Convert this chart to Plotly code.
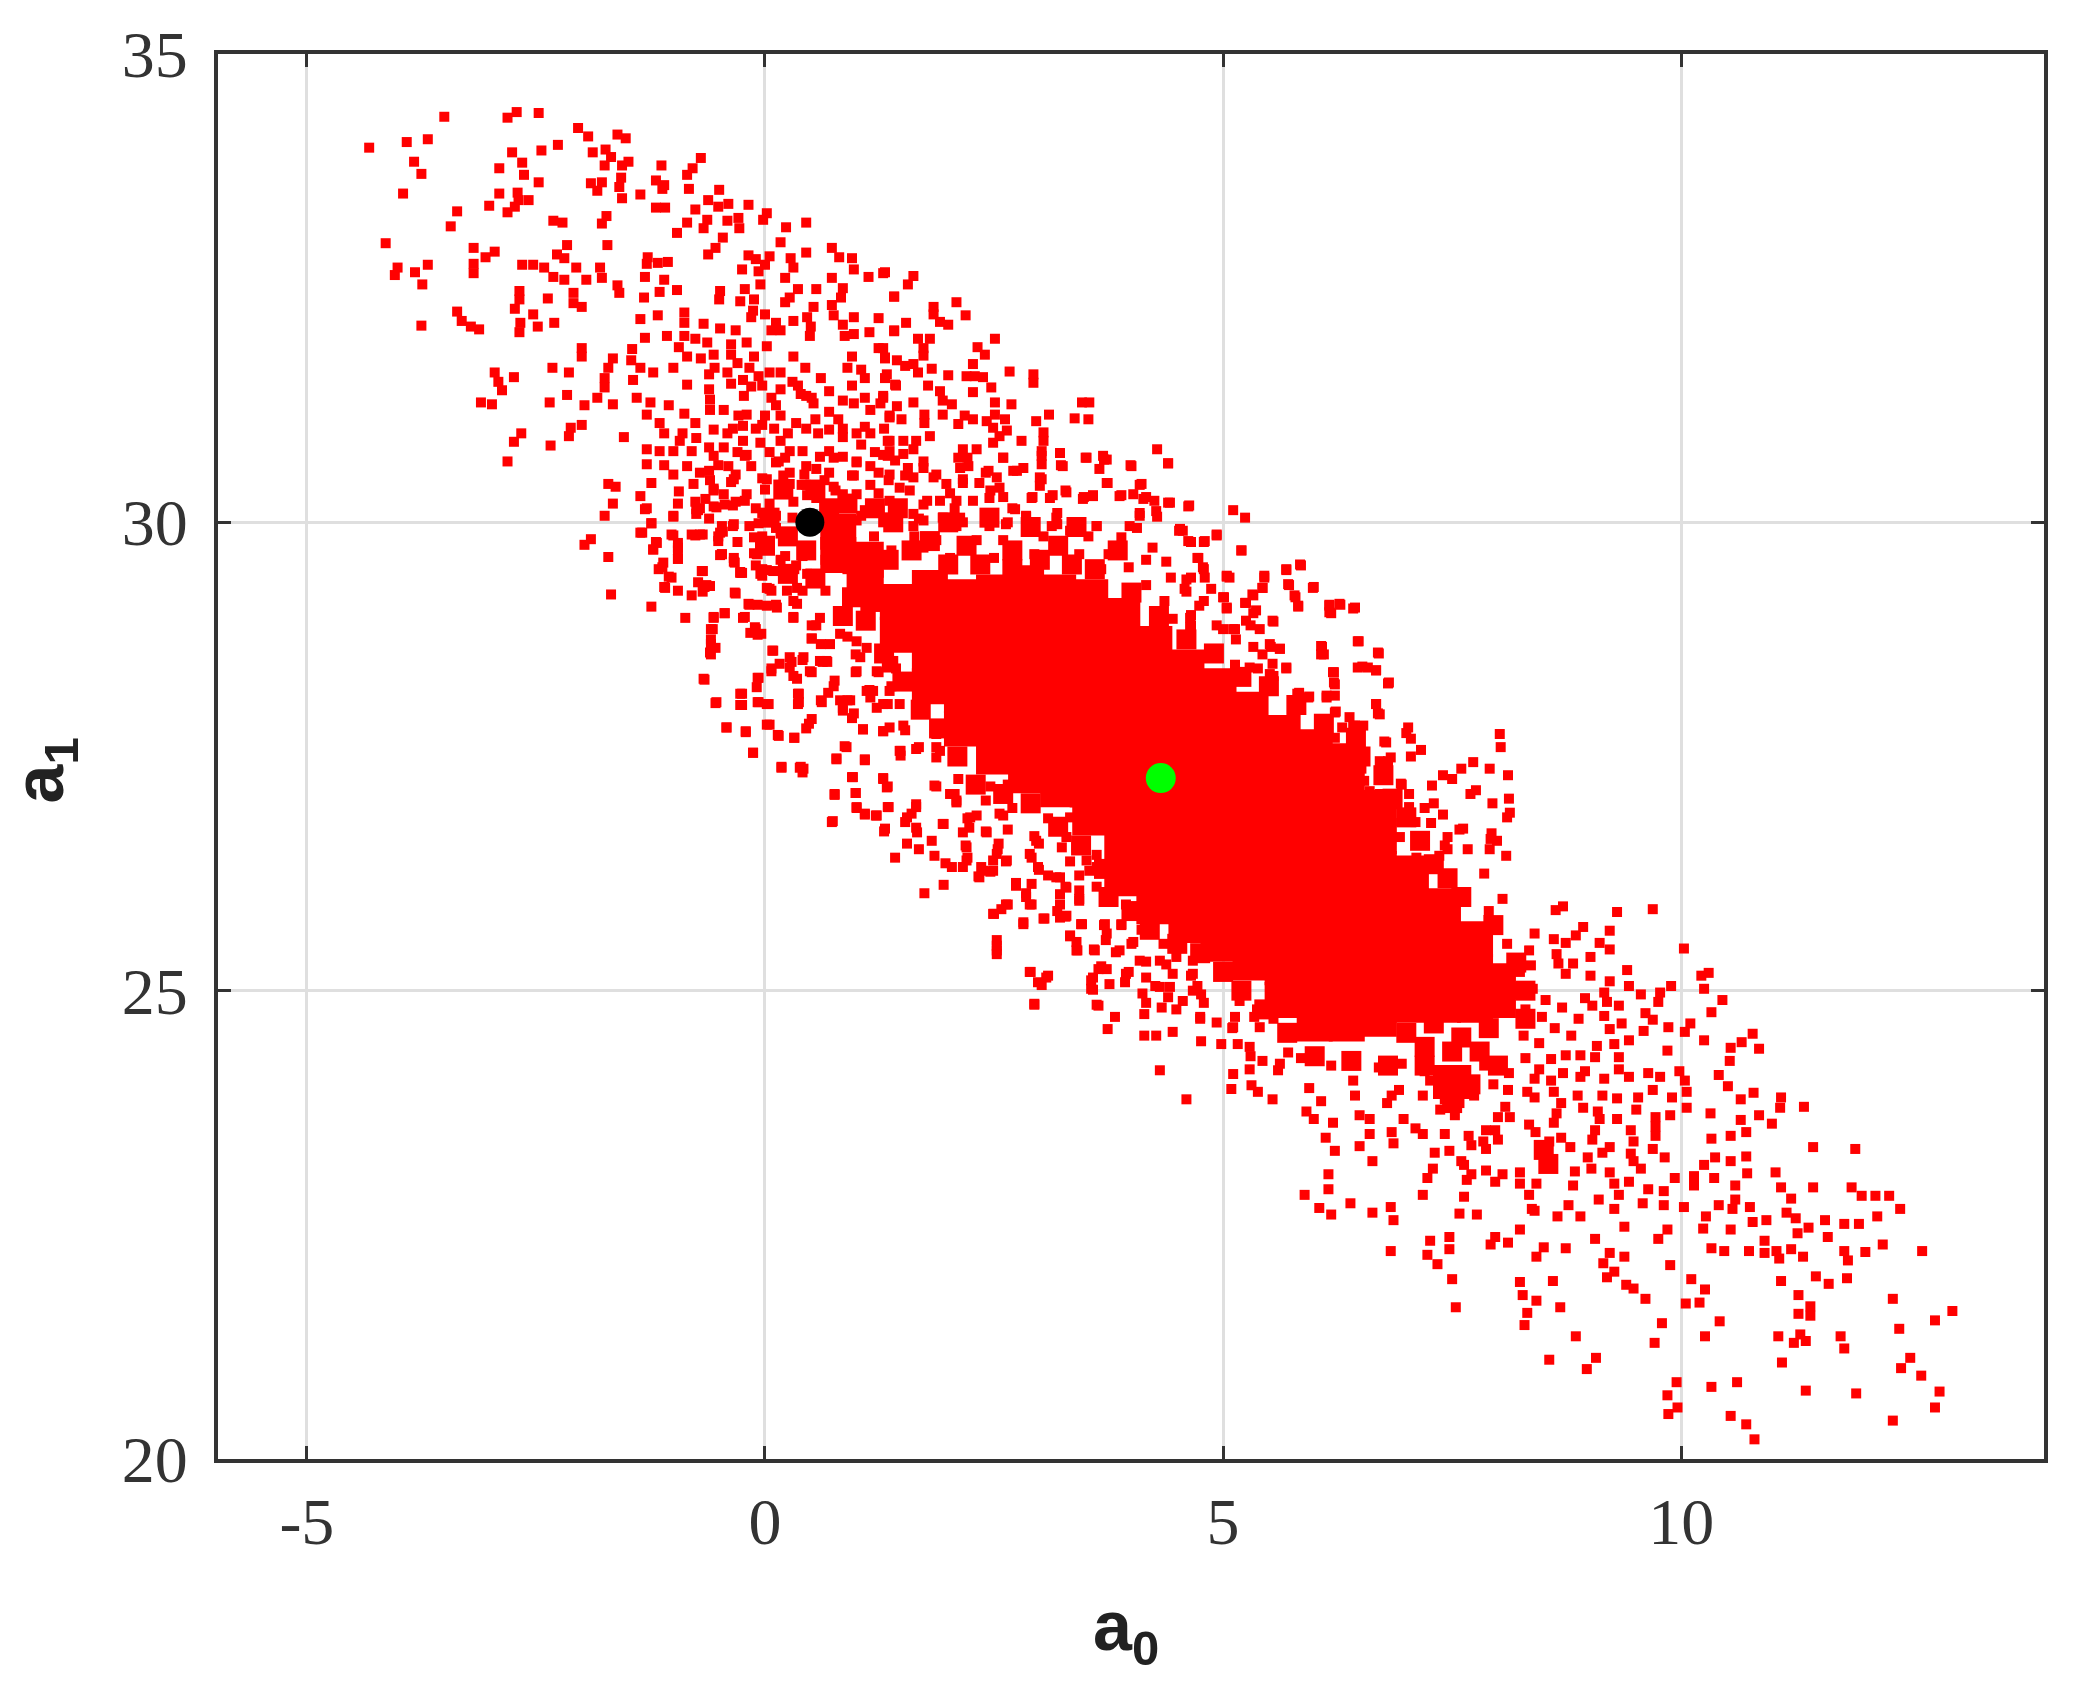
"""Scatter of a0 against a1: red samples, black start point, green estimate."""

import plotly.graph_objects as go

RED = "#FF0000"
INK = "#333333"
FONT = "Liberation Serif, serif"
LABEL_FONT = "Liberation Sans, Arial, sans-serif"

X_TICKS = [-5, 0, 5, 10]
X_LABELS = ["-5", "0", "5", "10"]
Y_TICKS = [20, 25, 30, 35]
Y_LABELS = ["20", "25", "30", "35"]

START_POINT = (0.49, 30.0)
ESTIMATE = (4.32, 27.27)

# upper-left tail of the cloud
UPPER_TAIL = [
    (-3.50,34.33),(-2.71,34.38),(-2.81,34.32),(-2.47,34.37),(-2.04,34.21),(-1.93,34.12),(-1.61,34.14),(-1.52,34.10),
    (-4.32,34.00),(-3.91,34.06),(-3.68,34.09),(-2.26,34.03),(-2.76,33.95),(-2.44,33.97),(-1.88,33.95),(-1.74,33.98),
    (-1.68,33.90),(-3.83,33.85),(-3.75,33.72),(-2.65,33.84),(-2.90,33.78),(-2.63,33.71),(-1.75,33.81),(-1.56,33.81),
    (-1.49,33.85),(-1.13,33.81),(-0.70,33.89),(-0.79,33.78),(-0.85,33.71),(-0.83,33.56),(-1.57,33.68),(-1.59,33.58),
    (-1.56,33.46),(-2.47,33.63),(-1.90,33.62),(-1.78,33.63),(-1.83,33.54),(-1.19,33.65),(-1.10,33.60),(-1.12,33.56),
    (-1.36,33.50),(-3.95,33.51),(-2.90,33.51),(-2.70,33.52),(-2.69,33.44),(-2.58,33.44),(-2.73,33.37),(-2.81,33.31),
    (-3.01,33.38),(-3.36,33.32),(-0.50,33.55),(-0.62,33.44),(-0.51,33.37),(-0.40,33.40),(-0.76,33.34),(-0.18,33.39),
    (-1.19,33.36),(-1.09,33.36),(0.02,33.30),(-0.02,33.23),(-1.73,33.27),(-1.78,33.19),(-2.31,33.22),(-2.21,33.20),
    (-3.43,33.16),(-0.85,33.20),(-0.96,33.09),(-0.63,33.23),(-0.67,33.14),(-0.41,33.22),(-0.29,33.25),(-0.28,33.14),
    (0.23,33.15),(0.45,33.20),(0.17,32.99),(-0.46,33.04),(-0.54,32.93),(-0.62,32.86),(-4.14,32.98),(-2.16,32.96),
    (-1.72,32.96),(-3.18,32.93),(-2.95,32.89),(-3.05,32.83),(-3.18,32.76),(-3.18,32.66),(-2.27,32.86),(-2.19,32.82),
    (-1.28,32.83),(-1.29,32.76),(-1.06,32.78),(-1.17,32.77),(-0.18,32.85),(-0.10,32.81),(0.05,32.84),(0.00,32.75),
    (0.28,32.82),(0.31,32.72),(0.45,32.88),(0.73,32.93),(0.81,32.83),(0.95,32.82),(0.97,32.70),(-3.68,32.75),
    (-3.82,32.67),(-4.01,32.72),(-4.04,32.64),(-3.74,32.54),(-2.65,32.75),(-2.53,32.75),(-2.41,32.72),(-2.31,32.62),
    (-2.19,32.59),(-2.06,32.72),(-1.80,32.72),(-1.78,32.61),(-1.95,32.59),(-0.25,32.70),(-0.07,32.68),(0.22,32.61),
    (1.13,32.62),(1.29,32.66),(-1.31,32.62),(-1.10,32.59),(-1.15,32.46),(-0.96,32.48),(-1.61,32.53),(-1.59,32.45),
    (-0.05,32.54),(-0.49,32.47),(-0.50,32.38),(0.36,32.49),(0.27,32.40),(0.56,32.49),(0.73,32.61),(0.85,32.50),
    (0.83,32.40),(-0.22,32.49),(-0.27,32.36),(-0.12,32.38),(-0.13,32.26),(1.41,32.41),(-2.68,32.47),(-2.68,32.38),
    (-2.73,32.28),(-2.37,32.39),(-2.09,32.45),(-2.09,32.34),(-2.00,32.30),(-1.32,32.40),(0.22,32.35),(0.53,32.30),
    (0.73,32.32),(-3.36,32.25),(-3.31,32.15),(-3.21,32.09),(-3.12,32.06),(-2.53,32.22),(-1.17,32.21),(-0.88,32.24),
    (-1.36,32.17),(-0.15,32.19),(0.00,32.22),(0.12,32.13),(0.31,32.15),(0.46,32.19),(0.75,32.21),(0.97,32.19),
    (1.24,32.18),(-3.75,32.10),(-2.67,32.13),(-2.68,32.03),(-2.48,32.09),(-2.30,32.13),(-0.88,32.13),(-0.67,32.12),
    (-0.49,32.07),(-0.32,32.05),(0.50,32.09),(0.49,31.99),(0.07,32.05),(0.17,32.05),(0.85,32.11),(0.87,31.99),
    (0.97,32.01),(1.14,32.03),(1.41,32.05),(-1.31,31.97),(-1.07,31.99),(-0.88,31.99),(-0.76,31.96),(-0.63,31.92),
    (-2.00,31.86),(-2.00,31.77),(-1.45,31.85),(-0.94,31.87),(-0.37,31.90),(-0.20,31.92),(0.02,31.88),(-0.56,31.79),
    (-0.37,31.79),(-0.85,31.77),(-1.00,31.65),(-1.66,31.75),(-1.71,31.65),(-1.75,31.54),(-1.46,31.73),(-1.36,31.65),
    (-1.22,31.60),(-0.12,31.77),(-0.17,31.65),(-0.07,31.56),(0.31,31.77),(0.44,31.65),(0.17,31.60),(0.61,31.54),
    (1.24,31.86),(1.31,31.75),(0.95,31.77),(0.90,31.65),(1.05,31.63),(1.09,31.54),(1.31,31.54),(0.95,31.46),
    (1.43,31.46),(-2.32,31.65),(-2.14,31.60),(-2.95,31.60),(-2.74,31.55),(-2.91,31.50),(-2.87,31.41),(-0.61,31.58),
    (-0.41,31.60),(-0.37,31.48),(-0.24,31.52),(-1.44,31.52),(-1.75,31.44),(-1.83,31.33),(-0.85,31.47),(-0.61,31.42),
    (-0.60,31.31),(-0.60,31.20),(-0.03,31.46),(-0.23,31.35),(0.17,31.42),(0.07,31.33),(0.36,31.46),(0.39,31.37),
    (0.51,31.33),(0.53,31.27),(1.09,31.33),(1.29,31.35),(1.26,31.27),(0.97,31.27),(-3.10,31.28),(-2.98,31.26),
    (-2.16,31.36),(-2.35,31.28),(-1.97,31.25),(-1.66,31.26),(-1.40,31.33),(-1.25,31.28),(-1.05,31.25),(0.12,31.25),
    (0.17,31.14),(-1.29,31.15),(-1.15,31.06),(-1.10,30.95),(-0.88,31.16),(-0.76,31.06),(-0.29,31.14),(-0.24,31.03),
    (0.00,31.14),(-0.03,31.04),(0.34,31.06),(0.70,31.18),(0.80,31.10),(0.70,30.99),(1.09,31.02),(1.36,31.14),
    (-2.00,31.04),(-2.12,31.01),(-2.14,30.92),(-2.66,30.95),(-2.74,30.86),(-1.54,30.91),(-2.34,30.82),(-2.81,30.65),
    (-0.56,30.99),(-0.41,30.95),(-0.24,30.87),(-0.61,30.80),(-0.93,30.87),(-1.00,30.76),(-1.29,30.78),(-1.15,30.76),
    (-0.80,30.76),(-1.29,30.62),(-1.10,30.61),(-1.00,30.51),(-0.51,30.61),(-0.71,30.53),(-0.78,30.41),(-0.32,30.51),
    (-0.37,30.43),(-0.20,30.72),(0.17,30.87),(0.27,30.76),(0.12,30.64),(0.41,30.76),(0.58,30.95),(0.70,30.76),
    (0.85,30.91),(1.05,30.83),(1.34,30.87),(1.29,30.72),(1.00,30.64),(0.56,30.57),(-0.03,30.47),(0.27,30.41),
    (-1.24,30.42),(-0.94,30.33),(-1.71,30.41),(-1.63,30.38),(-1.36,30.28),(-1.29,30.15),(-1.66,30.20),(-1.75,30.07),
    (-1.00,30.06),(-1.24,29.99),(-0.76,30.22),(-0.73,30.13),(-0.56,30.17),(-0.32,30.22),(-0.56,30.36),(-0.34,29.98),
    (-0.46,29.90),(-1.36,29.89),(-1.00,29.86),(-0.76,29.86),(-1.90,29.82),(-1.97,29.76),(-1.19,29.79),(-1.22,29.71),
    (-1.71,29.63),(-0.95,29.73),(-0.95,29.61),(-1.12,29.52),(-0.68,29.48),(-0.49,29.65),(-0.34,29.58),(-0.27,29.46),
    (-0.12,29.67),(-0.03,29.50),(-1.05,29.42),(-1.10,29.31),(-0.66,29.31),(-1.68,29.23),(-0.07,29.99),(0.12,30.07),
    (0.31,30.22),(0.56,30.26),(0.75,30.38),(1.00,30.30),(0.17,29.88),(-0.12,29.84),(0.66,30.03),(0.85,29.96),
    (1.05,30.07),(1.29,30.00),(0.66,29.60),(0.90,29.50),(0.17,29.60),(0.32,29.50),(0.07,29.27),(0.41,29.27),
    (0.66,29.27),(1.14,29.42),
    (-0.70,31.75),(-0.55,31.65),(-0.30,31.70),(-0.15,31.45),(0.05,31.60),(0.30,31.50),(0.45,31.35),(0.70,31.40),
    (0.85,31.30),(1.15,31.20),(1.30,31.00),(-0.45,31.20),(-0.20,31.15),(-0.35,31.00),(-0.10,31.00),(0.10,31.00),
    (0.25,30.95),(0.45,31.00),(0.55,31.10),(0.85,31.00),(1.00,30.95),(1.15,30.95),(1.20,30.75),(-0.90,30.95),
    (-0.75,30.90),(-0.45,30.80),(-0.30,30.75),(-0.05,30.85),(0.05,30.75),(0.15,30.65),(0.45,30.60),(0.60,30.70),
    (0.85,30.70),(0.95,30.50),(1.15,30.60),(1.35,30.45),(-0.85,30.60),(-0.60,30.45),(-0.40,30.60),(-0.15,30.60),
    (0.00,30.35),(0.20,30.50),(0.40,30.40),(0.65,30.45),(0.85,30.30),(1.15,30.40),(-0.95,30.20),(-0.65,30.25),
    (-0.45,30.30),(-0.20,30.30),(-0.10,30.15),(0.05,30.20),(0.30,30.05),(0.45,30.40),
]

# top edge between the upper tail and the dense middle
UPPER_EDGE = [
    (1.31,32.67),(1.62,32.63),(1.56,32.54),(1.41,32.41),(1.84,32.30),(1.84,32.22),(2.09,32.35),(2.19,32.21),
    (1.91,32.14),(2.00,32.11),(1.54,32.13),(1.41,32.04),(1.67,31.96),(1.80,31.96),(1.73,31.86),(1.73,31.78),
    (2.51,31.96),(2.32,31.87),(2.40,31.79),(2.27,31.69),(1.29,31.86),(1.31,31.76),(1.44,31.73),(1.53,31.67),
    (1.62,31.69),(1.82,31.64),(1.67,31.60),(2.00,31.57),(1.33,31.58),(1.42,31.47),(2.20,31.56),(2.29,31.56),
    (2.38,31.55),(2.67,31.61),(2.93,31.58),(2.93,31.49),(1.78,31.46),(1.91,31.40),(2.47,31.44),(2.27,31.39),
    (1.94,31.30),(2.04,31.26),(2.51,31.28),(2.69,31.26),(1.29,31.33),(1.62,31.28),(1.44,31.24),(3.54,31.28),
    (3.46,31.28),(1.36,31.12),(1.49,31.10),(1.74,31.15),(1.94,31.15),(1.74,31.06),(2.18,31.14),(2.11,31.05),
    (2.27,31.10),(2.42,31.08),(2.51,31.15),(2.62,31.10),(2.49,31.01),(3.10,31.15),(2.96,31.08),(3.38,31.11),
    (3.53,31.10),(2.64,30.98),(2.56,30.92),(2.49,30.85),(2.80,30.87),(3.04,30.96),(3.04,30.87),(1.36,30.87),
    (1.51,30.87),(1.65,30.87),(1.80,30.92),(1.36,30.76),(1.51,30.73),(1.62,30.78),(1.42,30.66),(2.16,30.78),
    (2.31,30.78),(2.21,30.69),(2.60,30.69),(2.13,30.58),(2.22,30.60),(3.02,30.76),(3.02,30.62),(3.22,30.74),
    (3.51,30.69),(3.69,30.71),(3.73,30.67),(3.25,30.60),(3.65,30.57),(4.00,30.60),(4.28,30.78),(4.40,30.63),
    (1.56,30.58),(1.73,30.58),(2.44,30.55),(2.71,30.55),(2.82,30.58),(2.53,30.48),(3.74,30.42),(3.00,30.48),
    (3.00,30.39),(4.11,30.41),(1.36,30.51),(1.62,30.48),(1.84,30.48),(1.98,30.41),(2.16,30.42),(2.34,30.42),
    (2.56,30.37),(1.47,30.37),(3.29,30.32),(3.11,30.26),(2.91,30.26),(3.58,30.28),(3.47,30.25),(3.87,30.28),
    (4.02,30.30),(4.13,30.25),(4.25,30.23),(4.42,30.21),(4.63,30.18),(1.73,30.19),(1.91,30.23),(2.09,30.23),
    (2.27,30.23),(2.45,30.26),(1.36,30.23),(1.47,30.14),(1.62,30.09),(1.73,30.02),(2.73,30.14),(2.85,30.07),
    (3.18,30.05),(4.09,30.07),(4.27,30.12),(3.62,29.96),(3.98,29.96),(4.53,29.93),(1.94,30.05),(2.13,30.05),
    (2.45,29.96),(2.63,29.98),(2.09,29.96),(3.13,29.96),(1.40,29.98),(1.62,29.96),
]

# left and lower fringe below the start point
LOWER_LEFT = [
    (-1.31,30.14),(-1.00,30.07),(-1.24,29.99),(-1.34,29.89),(-0.75,30.14),(-0.53,30.16),(-0.35,30.18),(-0.75,30.09),
    (-0.35,29.96),(-0.49,29.89),(-0.51,29.80),(-0.80,29.87),(-0.71,29.87),(-1.02,29.87),(-1.18,29.78),(-1.22,29.71),
    (-0.95,29.78),(-0.95,29.70),(-0.95,29.61),(-1.11,29.57),(-1.16,29.50),(-1.02,29.41),(-1.09,29.30),(-0.95,29.27),
    (-0.80,29.22),(-0.73,29.36),(-0.60,29.32),(-0.69,29.48),(-0.47,29.66),(-0.33,29.57),(-0.25,29.46),(-0.33,29.25),
    (-0.18,29.13),(-1.24,29.10),(-0.87,28.98),(-0.44,29.03),(-0.56,28.98),(-0.57,28.86),(-0.59,28.75),(-0.54,28.66),
    (-0.60,28.61),(-0.24,28.98),(-0.11,28.88),(-0.16,28.82),(-0.04,28.81),(-0.09,29.66),(0.09,29.48),(-0.05,29.45),
    (0.05,29.29),(0.24,29.27),(0.35,29.30),(0.02,29.11),(0.13,29.09),(0.35,29.13),(0.31,28.98),(0.56,28.90),
    (0.51,28.76),(0.60,28.98),(0.08,28.63),(0.27,28.56),(0.42,28.56),(0.16,28.49),(0.07,28.41),(0.27,28.45),
    (0.49,28.41),(0.35,28.33),(-0.07,28.34),(-0.09,28.24),(-0.67,28.33),(-0.25,28.17),(-0.25,28.05),(-0.07,28.08),
    (0.04,28.06),(-0.53,28.08),(0.37,28.17),(0.37,28.08),(0.62,28.08),(0.69,28.18),(0.76,28.31),(0.60,28.52),
    (0.67,28.52),(0.82,28.10),(0.93,28.10),(0.85,27.99),(0.95,27.91),(-0.42,27.81),(-0.21,27.77),(0.05,27.84),
    (0.15,27.72),(0.32,27.70),(0.45,27.80),(0.51,27.90),(-0.13,27.54),(1.07,27.79),(1.29,27.77),(0.89,27.60),
    (0.78,27.47),(1.09,27.46),(0.18,27.38),(0.38,27.38),(0.42,27.37),(0.95,27.28),(1.29,27.27),(1.33,27.17),
    (0.76,27.09),(0.99,27.11),(1.00,26.96),(1.09,26.89),(1.22,26.87),(1.35,26.96),(0.73,26.80),(1.31,26.73),
    (1.65,26.96),(1.55,26.85),(1.65,26.74),(1.94,26.78),(1.47,27.56),(1.65,27.58),(1.53,27.78),(1.36,27.81),
    (1.85,27.19),(2.09,27.03),(2.02,27.10),(2.24,26.85),(1.22,28.02),(1.15,28.13),(1.36,28.20),(1.47,28.06),
    (1.73,28.02),(1.87,27.74),(1.91,27.56),(1.22,28.41),(1.33,28.45),(1.40,28.52),(1.18,28.20),(1.11,28.20),
    (1.29,28.06),(1.55,28.31),(1.00,28.73),(1.11,28.66),(1.04,28.56),(1.00,28.41),(0.82,28.81),(0.71,28.70),
]

# lower edge under the estimate
LOWER_EDGE = [
    (2.53,25.48),(2.53,25.39),(2.90,25.20),(2.98,25.09),(3.07,25.14),(2.94,24.86),(2.49,25.82),(2.58,25.87),
    (2.63,25.92),(2.82,25.71),(3.05,25.77),(3.22,25.78),(3.29,25.80),(3.45,25.71),(3.33,25.59),(3.40,25.52),
    (3.40,25.43),(3.59,25.44),(3.22,25.92),(2.91,25.92),(2.74,26.12),(2.85,26.00),(2.91,26.14),(2.38,26.28),
    (2.49,26.28),(2.34,26.21),(2.20,26.39),(2.16,26.32),(3.22,26.21),(3.29,26.10),(3.43,25.98),(3.22,26.03),
    (3.71,25.71),(3.89,25.71),(3.73,25.61),(3.83,25.41),(4.02,25.52),(4.09,25.32),(3.64,25.23),(3.73,25.23),
    (3.56,25.11),(3.56,25.02),(3.76,25.07),(3.94,25.18),(3.93,25.09),(4.16,25.14),(4.12,24.97),(4.31,25.04),
    (4.42,25.04),(3.64,24.84),(3.82,24.72),(3.74,24.59),(4.14,24.75),(4.33,24.82),(4.49,24.80),(4.56,24.89),
    (4.67,25.00),(4.76,24.96),(4.14,24.52),(4.27,24.52),(4.45,24.56),(4.75,24.72),(4.93,24.66),(4.76,24.46),
    (4.98,24.43),(5.16,24.43),(5.29,24.40),(5.13,24.72),(5.11,24.61),(5.34,24.72),(5.40,24.61),(5.71,24.34),
    (4.31,24.15),(5.43,24.25),(5.60,24.15),(5.11,24.11),(5.09,23.95),(5.29,24.16),(5.31,23.99),(5.38,23.92),
    (4.60,23.84),(5.54,23.84),(2.54,26.51),(2.49,26.39),(2.64,26.39),(2.96,26.60),(2.91,26.42),(2.98,26.32),
    (3.18,26.21),(2.23,26.74),(2.42,26.69),(2.20,26.53),(2.56,26.89),(3.29,26.64),(3.51,26.39),(3.40,26.53),
    (3.54,26.28),(3.73,26.03),(4.02,25.89),(3.94,25.92),(4.31,25.32),(4.49,25.36),(4.67,25.18),(4.45,25.18),
    (4.67,25.32),
]

# right edge between the dense middle and the lower-right tail
RIGHT_EDGE = [
    (4.56,29.91),(4.62,29.80),(4.80,29.80),(4.93,29.87),(5.20,29.70),(4.73,29.62),(4.78,29.52),(4.80,29.41),
    (4.60,29.39),(5.04,29.43),(5.07,29.41),(5.45,29.43),(5.43,29.30),(5.32,29.23),(5.25,29.14),(5.69,29.49),
    (5.84,29.55),(5.71,29.34),(5.78,29.22),(5.82,29.11),(5.98,29.30),(6.16,29.11),(6.16,29.04),(6.27,29.13),
    (6.42,29.08),(4.87,29.29),(4.58,29.29),(5.00,29.20),(5.04,29.08),(5.36,29.06),(5.25,28.95),(5.40,28.86),
    (5.54,28.95),(5.00,28.86),(5.13,28.86),(5.14,28.75),(4.74,29.11),(4.64,28.98),(4.64,28.88),(6.47,28.73),
    (6.70,28.60),(6.07,28.68),(6.07,28.59),(5.51,28.70),(5.62,28.65),(5.43,28.59),(5.54,28.49),(5.29,28.45),
    (5.69,28.44),(5.51,28.38),(6.47,28.45),(6.58,28.45),(6.67,28.42),(6.80,28.28),(6.20,28.40),(6.22,28.27),
    (6.13,28.15),(6.22,28.15),(5.83,28.18),(5.94,28.14),(6.67,28.06),(6.71,27.95),(6.22,27.97),(6.38,27.92),
    (6.42,27.83),(6.53,27.83),(7.02,27.81),(7.05,27.69),(7.16,27.57),(8.02,27.74),(8.03,27.60),(6.78,27.65),
    (6.83,27.49),(6.71,27.45),(7.73,27.44),(7.60,27.37),(7.50,27.26),(7.91,27.37),(8.11,27.30),(7.28,27.19),
    (7.76,27.14),(7.94,27.00),(8.13,26.90),(6.22,27.70),(6.23,27.56),(6.13,27.60),(6.33,27.37),(6.51,27.37),
    (6.71,27.28),(6.54,27.24),(6.33,27.21),(6.42,27.13),(6.94,27.21),(7.03,27.10),(6.71,27.10),(7.40,26.88),
    (7.27,26.79),(7.62,26.73),(7.93,26.68),(7.99,26.60),(7.67,26.51),(7.91,26.51),(8.09,26.44),(7.20,26.58),
    (7.45,26.64),(7.45,26.51),(7.36,26.44),(7.11,26.42),(6.82,26.88),(7.03,26.96),(6.78,26.74),(6.93,26.64),
    (6.67,26.81),(6.49,26.69),(6.51,26.58),(6.60,27.13),(6.71,26.99),(6.45,26.88),(6.89,26.99),
]

# band around the dense middle of the cloud
MIDDLE_BAND = [
    (-0.56,30.71),(-0.22,30.71),(0.22,30.69),(0.75,30.69),(1.00,30.65),(1.34,30.71),(1.73,30.65),(2.11,30.69),
    (2.60,30.69),(3.02,30.71),(3.23,30.61),(3.50,30.69),(3.70,30.67),(3.99,30.61),(4.40,30.63),(-0.61,30.55),
    (-0.34,30.46),(0.02,30.46),(0.27,30.53),(0.43,30.51),(0.70,30.53),(0.97,30.50),(1.24,30.53),(1.53,30.50),
    (1.87,30.51),(2.16,30.46),(2.41,30.53),(2.75,30.55),(3.02,30.46),(3.28,30.34),(3.73,30.42),(4.09,30.40),
    (-0.56,30.34),(-0.22,30.23),(-0.44,30.19),(0.17,30.34),(0.46,30.29),(0.77,30.34),(1.24,30.31),(1.58,30.34),
    (1.77,30.23),(2.02,30.31),(2.46,30.34),(2.60,30.27),(2.92,30.27),(3.14,30.29),(3.48,30.27),(3.58,30.29),
    (3.89,30.29),(4.16,30.27),(4.40,30.21),(4.62,30.17),(-0.71,30.15),(-0.03,30.10),(0.85,30.19),(1.09,30.13),
    (1.48,30.19),(2.07,30.15),(2.70,30.15),(2.85,30.06),(3.19,30.10),(4.09,30.10),(4.28,30.06),(5.11,30.13),
    (5.24,30.05),(-0.61,30.04),(-0.47,29.96),(-0.17,29.96),(0.12,29.94),(1.00,30.02),(1.43,30.00),(1.68,30.04),
    (2.16,30.00),(2.65,30.00),(3.19,29.98),(3.62,29.96),(4.06,29.94),(-0.68,29.87),(-0.51,29.85),(-0.30,29.79),
    (-0.03,29.85),(0.90,29.85),(1.19,29.85),(1.63,29.85),(1.87,29.81),(2.31,29.81),(2.60,29.81),(3.04,29.85),
    (3.33,29.91),(3.53,29.85),(3.89,29.84),(4.52,29.91),(4.65,29.79),(4.79,29.79),(4.93,29.86),(-0.47,29.66),
    (-0.34,29.62),(-0.08,29.66),(0.22,29.64),(0.41,29.64),(0.75,29.70),(1.38,29.70),(1.73,29.73),(2.02,29.62),
    (2.50,29.62),(2.94,29.66),(3.43,29.66),(3.75,29.66),(4.23,29.73),(4.16,29.60),(4.38,29.58),(5.20,29.70),
    (-0.68,29.48),(-0.27,29.47),(-0.10,29.54),(0.02,29.49),(0.34,29.54),(3.67,29.50),(3.97,29.52),(4.72,29.62),
    (4.79,29.50),(5.69,29.50),(5.85,29.54),(-0.64,29.33),(-0.03,29.43),(0.46,29.45),(4.16,29.33),(4.43,29.41),
    (4.65,29.41),(5.04,29.42),(5.45,29.41),(5.43,29.30),(5.72,29.33),(5.99,29.31),(-0.68,29.26),(-0.32,29.24),
    (0.02,29.30),(0.12,29.12),(0.31,29.16),(-0.08,29.12),(-0.17,29.12),(4.36,29.16),(4.60,29.26),(4.79,29.16),
    (5.01,29.20),(5.04,29.09),(5.33,29.22),(5.24,29.14),(5.79,29.20),(5.82,29.10),(6.16,29.12),(6.28,29.12),
    (6.44,29.09),(6.18,29.03),(-0.44,29.03),(-0.56,28.99),(-0.22,28.99),(0.31,28.99),(0.51,28.90),(4.45,28.97),
    (4.65,29.01),(5.33,29.03),(5.55,28.94),(4.93,28.90),(5.11,28.86),(5.30,28.90),(-0.59,28.86),(-0.10,28.86),
    (-0.08,28.80),(0.51,28.76),(0.90,28.78),(4.65,28.90),(-0.59,28.70),(-0.59,28.59),(0.09,28.63),(0.61,28.70),
    (0.68,28.51),(6.08,28.67),(6.10,28.59),(6.48,28.73),(6.69,28.61),(5.33,28.67),(5.52,28.67),(5.62,28.65),
    (0.07,28.44),(0.29,28.51),(0.41,28.53),(0.63,28.51),(0.99,28.59),(5.13,28.48),(5.38,28.44),(5.69,28.45),
    (6.21,28.40),(6.52,28.46),(6.67,28.42),(-0.66,28.32),(-0.08,28.34),(0.31,28.36),(0.51,28.40),(0.99,28.40),
    (1.24,28.40),(1.43,28.44),(5.55,28.36),(6.81,28.29),(6.21,28.29),(-0.27,28.17),(0.36,28.17),(-0.08,28.08),
    (0.02,28.06),(0.75,28.25),(0.61,28.10),(0.90,28.10),(1.14,28.21),(1.38,28.25),(5.81,28.17),(5.93,28.13),
    (6.13,28.13),(-0.54,28.07),(-0.27,28.05),(0.36,28.06),(0.85,28.02),(0.97,27.96),(1.34,28.06),(6.67,28.06),
    (6.69,27.96),(6.23,27.98),(-0.42,27.81),(0.02,27.84),(0.48,27.85),(1.07,27.79),(1.29,27.77),(1.51,27.83),
    (6.44,27.83),(6.30,27.81),(-0.21,27.76),(0.14,27.73),(0.32,27.70),(0.87,27.61),(1.48,27.56),(1.68,27.60),
    (1.87,27.60),(2.11,27.70),(6.76,27.66),(-0.13,27.54),(0.78,27.48),(1.09,27.47),(1.48,27.51),(1.87,27.49),
    (2.50,27.49),(2.41,27.39),(0.18,27.39),(0.39,27.39),(0.41,27.33),(0.96,27.28),(1.29,27.26),(1.34,27.18),
    (1.87,27.18),(2.11,27.26),(2.65,27.20),(2.46,27.18),(0.76,27.10),(0.99,27.11),(2.07,27.10),(2.09,27.01),
    (2.41,27.03),(2.70,26.95),(2.92,27.03),(3.38,27.01),(1.00,26.95),(1.09,26.88),(1.21,26.87),(1.34,26.96),
    (1.65,26.99),(1.60,26.89),(2.21,26.84),(2.60,26.87),(2.31,26.87),(3.33,26.85),(3.09,26.84),(0.74,26.81),
    (1.95,26.78),(1.53,26.80),(1.30,26.70),(1.66,26.69),(2.41,26.70),(2.16,26.69),(2.65,26.72),(2.94,26.65),
    (3.43,26.72),(1.55,26.57),(1.82,26.60),(2.19,26.55),(2.55,26.57),(2.99,26.57),(3.24,26.53),(3.48,26.53),
    (1.68,26.51),(1.85,26.44),(1.42,26.42),(1.97,26.36),(2.21,26.42),(2.53,26.46),(2.63,26.38),(2.89,26.46),
    (3.33,26.38),(3.62,26.45),(2.04,26.32),(2.36,26.32),(2.46,26.27),(2.33,26.22),(2.99,26.29),(3.09,26.23),
    (3.43,26.23),(3.87,26.23),(3.62,26.32),(1.95,26.13),(1.74,26.04),(2.74,26.15),(2.85,26.04),(3.28,26.11),
    (3.43,26.07),(3.62,26.11),(3.77,26.01),(2.65,25.92),(2.50,25.82),(2.89,25.92),(3.43,25.96),(3.19,25.85),
    (3.04,25.77),(3.28,25.79),(3.97,25.88),(2.82,25.73),(3.46,25.71),(3.70,25.70),(3.89,25.70),(4.11,25.65),
    (3.33,25.58),(2.53,25.54),(2.53,25.43),(3.41,25.43),(3.60,25.43),(3.72,25.54),(3.87,25.43),(4.00,25.50),
    (4.35,25.50),(2.89,25.20),(3.09,25.16),(3.02,25.06),(3.67,25.26),(3.58,25.14),(3.58,25.01),(4.16,25.31),
    (4.38,25.28),(3.97,25.20),(4.26,25.05),(4.65,25.16),(4.72,25.05),(2.94,24.85),(3.62,24.85),(4.16,24.87),
    (4.40,24.93),(4.79,24.87),(5.18,24.89),(5.37,24.80),(5.55,24.70),(5.10,24.60),(4.75,24.70),
]

# lower-right tail of the cloud
LOWER_TAIL = [
    (9.69,25.87),(9.30,25.84),(8.71,25.90),(8.63,25.86),(9.22,25.64),(8.93,25.68),(8.85,25.59),(8.61,25.55),
    (8.74,25.51),(8.40,25.61),(9.11,25.51),(9.22,25.44),(9.01,25.36),(10.03,25.45),(8.34,25.43),(8.36,25.27),
    (8.64,25.39),(8.66,25.29),(8.74,25.18),(8.82,25.29),(9.01,25.16),(9.41,25.22),(9.22,25.10),(9.43,25.05),
    (9.56,24.96),(9.77,24.98),(9.89,25.05),(9.75,24.88),(10.22,25.16),(10.30,25.19),(10.25,25.02),(10.45,24.90),
    (10.33,24.77),(9.16,24.98),(9.03,24.84),(9.19,24.88),(9.32,24.84),(9.16,24.73),(9.35,24.65),(9.22,24.59),
    (9.61,24.76),(9.69,24.69),(9.59,24.57),(9.86,24.61),(10.10,24.65),(10.04,24.56),(10.25,24.47),(10.78,24.54),
    (10.66,24.45),(10.85,24.38),(10.54,24.39),(10.53,24.25),(9.85,24.36),(9.43,24.47),(9.27,24.43),(9.08,24.41),
    (9.06,24.29),(9.32,24.29),(9.32,24.16),(9.43,24.08),(9.64,24.12),(9.77,24.08),(9.98,24.14),(10.04,24.04),
    (10.06,23.92),(9.90,23.86),(10.06,23.75),(8.58,24.27),(8.74,24.31),(8.90,24.31),(8.45,24.16),(8.40,24.06),
    (8.71,24.12),(8.58,24.04),(8.95,24.14),(8.90,24.08),(9.16,24.06),(10.41,24.10),(10.51,23.98),(10.65,23.84),
    (10.79,23.91),(11.09,23.86),(11.08,23.75),(11.34,23.76),(9.69,23.94),(9.53,23.86),(9.51,23.73),(9.30,23.85),
    (9.14,23.88),(9.09,23.71),(8.11,23.94),(8.32,23.92),(8.40,23.86),(8.61,23.92),(8.69,23.80),(8.87,23.88),
    (8.93,23.75),(10.32,23.69),(10.65,23.62),(10.85,23.67),(10.99,23.58),(9.72,23.65),(9.88,23.67),(9.72,23.55),
    (9.72,23.45),(9.30,23.63),(9.11,23.63),(9.06,23.51),(9.03,23.41),(8.64,23.69),(8.61,23.59),(8.34,23.57),
    (8.41,23.49),(8.08,23.76),(8.00,23.65),(8.13,23.65),(7.97,23.51),(7.87,23.51),(7.84,23.39),(8.00,23.41),
    (7.68,23.45),(7.71,23.35),(7.87,23.31),(10.54,23.45),(10.71,23.49),(10.33,23.42),(9.45,23.51),(9.48,23.39),
    (9.45,23.26),(9.48,23.18),(9.69,23.31),(9.82,23.22),(11.44,23.33),(11.90,23.31),(8.69,23.43),(8.56,23.39),
    (8.45,23.27),(8.56,23.18),(8.58,23.12),(8.79,23.33),(9.22,23.33),(9.14,23.27),(8.98,23.22),(9.02,23.10),
    (10.37,23.22),(10.25,23.14),(10.54,23.18),(10.71,23.23),(9.56,23.10),(9.22,23.06),(9.27,22.94),(9.43,22.96),
    (10.72,23.05),(11.03,23.06),(10.36,23.00),(9.93,23.00),(10.14,23.02),(10.14,22.92),(8.84,23.07),(8.82,22.92),
    (8.24,23.06),(8.24,22.94),(8.42,22.94),(8.34,22.82),(8.37,22.67),(8.05,23.04),(7.97,22.96),(7.87,23.08),
    (7.71,23.04),(7.66,22.98),(7.63,23.14),(7.47,23.29),(7.31,23.27),(7.29,23.10),(7.23,23.00),(7.60,23.18),
    (10.59,22.92),(10.59,22.77),(10.56,22.67),(10.41,22.71),(10.27,22.59),(10.24,22.46),(10.54,22.45),(11.09,22.90),
    (11.20,22.78),(11.44,22.90),(11.86,22.90),(11.97,22.81),(12.12,22.81),(12.27,22.81),(12.39,22.67),(10.75,22.69),
    (10.78,22.53),(10.93,22.55),(11.15,22.63),(11.25,22.57),(11.39,22.47),(11.57,22.55),(11.60,22.37),(11.78,22.51),
    (11.94,22.51),(12.14,22.59),(11.27,22.41),(10.91,22.33),(12.20,22.29),(12.63,22.22),(9.64,22.88),(9.81,22.86),
    (9.58,22.73),(9.81,22.71),(10.03,22.69),(9.32,22.82),(9.27,22.67),(9.10,22.77),(8.77,22.71),(8.90,22.59),
    (8.65,22.59),(8.40,22.65),(8.24,22.45),(7.63,22.80),(7.58,22.62),(7.77,22.61),(7.18,22.82),(6.83,22.69),
    (6.86,22.55),(6.63,22.63),(6.39,22.73),(6.18,22.61),(6.05,22.68),(5.89,22.82),(6.15,22.88),(6.15,23.04),
    (6.63,23.18),(6.49,23.34),(6.22,23.29),(9.38,22.48),(9.06,22.35),(9.85,22.45),(9.75,22.35),(8.74,22.25),
    (8.50,22.26),(8.42,22.16),(7.97,22.37),(8.11,22.31),(7.92,22.29),(7.47,22.37),(7.47,22.24),(7.26,22.33),
    (7.23,22.18),(7.34,22.08),(6.83,22.22),(9.22,22.20),(9.38,22.16),(9.15,22.09),(9.27,22.00),(9.19,21.94),
    (9.88,22.07),(10.33,22.25),(10.47,22.22),(10.74,22.22),(10.91,22.20),(11.04,22.22),(11.07,22.14),(11.20,22.24),
    (11.33,22.16),(11.78,22.22),(11.82,22.12),(12.01,22.21),(7.50,21.92),(8.24,21.89),(8.27,21.75),(8.60,21.90),
    (9.40,21.86),(9.48,21.82),(9.61,21.71),(10.11,21.92),(10.26,21.81),(11.09,21.90),(11.47,21.95),(11.61,21.87),
    (11.81,21.93),(11.28,21.75),(12.31,21.71),(8.42,21.69),(7.54,21.62),(8.68,21.62),(8.32,21.56),(8.29,21.43),
    (10.05,21.66),(10.20,21.67),(11.41,21.63),(11.28,21.55),(11.41,21.53),(12.96,21.58),(12.77,21.48),(10.42,21.47),
    (9.79,21.45),(12.38,21.39),(8.85,21.31),(10.26,21.31),(9.71,21.24),(11.06,21.31),(11.30,21.33),(11.23,21.24),
    (11.36,21.26),(11.74,21.31),(11.78,21.18),(12.50,21.08),(12.40,20.97),(12.62,20.89),(8.56,21.06),(9.07,21.08),
    (8.97,20.96),(11.10,21.03),(9.95,20.82),(9.85,20.68),(10.33,20.77),(10.61,20.82),(11.36,20.73),(11.91,20.70),
    (12.82,20.72),(12.77,20.55),(9.96,20.55),(9.86,20.48),(10.54,20.46),(10.71,20.37),(10.80,20.21),(12.31,20.41),
    (5.94,23.96),(6.07,23.82),(5.91,23.71),(5.99,23.63),(6.20,23.59),(6.12,23.43),(6.42,24.04),(6.44,23.88),
    (6.49,23.67),(6.60,23.63),(6.60,23.47),(6.84,23.88),(6.92,23.94),(6.79,23.80),(6.84,23.49),(6.86,23.37),
    (6.97,23.63),(7.10,23.53),(7.18,23.47),(7.18,23.88),(7.42,23.47),(7.95,24.00),(7.53,24.04),(7.68,23.96),
    (7.42,23.84),(7.58,23.80),(7.74,23.88),(7.37,23.73),(7.53,23.67),(7.63,24.12),(7.42,24.12),(7.26,24.04),
    (5.30,24.30),(5.62,24.22),(5.85,24.28),(6.18,24.20),(6.42,24.30),(6.70,24.18),(6.95,24.22),(7.20,24.14),
    (7.85,24.20),(8.12,24.12),(8.30,24.28),(8.28,24.52),(8.45,24.44),(8.62,24.60),(8.80,24.52),(8.48,24.72),
    (8.30,24.80),(8.52,24.90),(8.70,24.82),(8.88,24.70),(8.95,24.92),(8.38,25.02),(8.24,25.20),(8.10,25.50),
    (7.90,25.85),(7.60,26.05),(8.05,25.98),(7.30,26.35),(7.42,26.55),(7.85,26.25),(7.10,26.80),(7.58,26.72),
    (7.92,26.62),(8.12,27.05),(8.10,26.85),(7.70,27.10),(7.40,27.30),(7.05,27.50),(7.30,27.00),(6.95,27.20),
    (6.80,27.45),(7.00,27.75),(7.20,26.95),
]

# tight clumps where samples overlap around the solid middle
CLUMPS = [
    (0.05,30.05),(0.25,29.85),(0.45,29.70),(0.20,30.35),(0.55,30.35),(0.90,30.20),(1.20,30.15),(1.45,30.15),
    (0.70,30.15),(0.00,29.75),(0.25,29.45),(0.55,29.40),(0.95,29.20),(0.85,29.00),(1.10,28.95),(1.30,28.60),
    (1.50,28.30),(1.70,28.00),(1.90,27.80),(2.10,27.50),(2.30,27.20),(2.60,27.10),(2.90,27.00),(3.20,26.75),
    (3.45,26.55),(3.70,26.30),(3.75,26.00),(4.00,25.85),(4.20,25.65),(4.50,25.50),(4.75,25.40),(5.00,25.20),
    (5.20,25.00),(5.45,24.80),(5.70,24.55),(1.80,29.80),(2.20,29.75),(2.70,29.70),(3.20,29.75),(3.60,29.50),
    (4.00,29.25),(4.30,29.00),(4.60,28.75),(4.90,28.60),(5.20,28.35),(5.50,28.25),(5.80,28.05),(6.10,27.85),
    (6.45,27.70),(6.75,27.30),(7.00,26.85),(7.30,26.35),(7.60,26.00),(7.95,25.70),(8.20,25.30),(8.30,25.00),
    (8.30,24.70),(6.00,24.30),(6.40,24.25),(6.80,24.20),(7.20,24.20),(7.60,24.10),(8.00,24.20),(7.40,23.95),
    (7.60,23.95),(7.40,24.10),(7.50,23.80),(7.70,24.00),(8.50,23.30),(8.55,23.15),(1.40,30.00),(2.00,30.00),
    (2.45,30.05),(2.90,29.95),(3.40,29.95),(3.85,29.70),(6.50,27.50),(6.85,27.05),(7.15,26.60),(7.45,26.20),
    (1.35,29.60),(1.60,29.70),(2.00,29.55),(2.35,29.55),(2.70,29.50),(3.00,29.60),(3.35,29.55),(1.15,29.15),
    (1.00,29.40),(7.00,24.55),(7.30,24.65),(7.60,24.50),(7.90,24.60),(7.20,24.40),(7.50,24.35),(7.80,24.35),
]

# solid red middle of the cloud, too packed to separate the samples
CORE = [
    (1.45,28.80),(1.45,29.15),(1.80,28.25),(1.80,28.60),(1.80,28.95),(1.80,29.30),(2.15,27.80),(2.15,28.15),
    (2.15,28.50),(2.15,28.85),(2.15,29.20),(2.50,27.50),(2.50,27.85),(2.50,28.20),(2.50,28.55),(2.50,28.90),
    (2.50,29.25),(2.85,27.30),(2.85,27.65),(2.85,28.00),(2.85,28.35),(2.85,28.70),(2.85,29.05),(2.85,29.35),
    (3.20,27.15),(3.20,27.50),(3.20,27.85),(3.20,28.20),(3.20,28.55),(3.20,28.90),(3.20,29.25),(3.55,26.85),
    (3.55,27.20),(3.55,27.55),(3.55,27.90),(3.55,28.25),(3.55,28.60),(3.55,28.95),(3.55,29.20),(3.90,26.20),
    (3.90,26.55),(3.90,26.90),(3.90,27.25),(3.90,27.60),(3.90,27.95),(3.90,28.30),(3.90,28.65),(3.90,29.00),
    (4.25,25.90),(4.25,26.25),(4.25,26.60),(4.25,26.95),(4.25,27.30),(4.25,27.65),(4.25,28.00),(4.25,28.35),
    (4.25,28.70),(4.60,25.70),(4.60,26.05),(4.60,26.40),(4.60,26.75),(4.60,27.10),(4.60,27.45),(4.60,27.80),
    (4.60,28.15),(4.60,28.45),(4.95,25.50),(4.95,25.85),(4.95,26.20),(4.95,26.55),(4.95,26.90),(4.95,27.25),
    (4.95,27.60),(4.95,27.95),(4.95,28.25),(5.30,25.30),(5.30,25.65),(5.30,26.00),(5.30,26.35),(5.30,26.70),
    (5.30,27.05),(5.30,27.40),(5.30,27.75),(5.30,28.00),(5.65,24.90),(5.65,25.25),(5.65,25.60),(5.65,25.95),
    (5.65,26.30),(5.65,26.65),(5.65,27.00),(5.65,27.35),(5.65,27.55),(5.65,27.75),(6.00,24.65),(6.00,25.00),
    (6.00,25.35),(6.00,25.70),(6.00,26.05),(6.00,26.40),(6.00,26.75),(6.00,27.10),(6.00,27.35),(6.00,27.60),
    (6.35,24.65),(6.35,25.00),(6.35,25.35),(6.35,25.70),(6.35,26.05),(6.35,26.40),(6.35,26.75),(6.35,27.10),
    (6.35,27.45),(6.70,24.70),(6.70,24.90),(6.70,25.25),(6.70,25.60),(6.70,25.95),(6.70,26.30),(6.70,26.65),
    (6.70,26.95),(7.05,24.85),(7.05,25.20),(7.05,25.55),(7.05,25.90),(7.05,26.25),(7.40,24.85),(7.40,25.20),
    (7.40,25.55),(7.40,25.90),(7.75,24.85),(7.75,25.20),(7.75,25.55),
    (8.00,24.90),(8.00,25.10),(1.10,29.30),(1.10,29.60),(0.80,29.65),(0.80,29.90),
]


def scatter(points, size, color, symbol="square"):
    xs, ys = zip(*points)
    return go.Scatter(
        x=xs, y=ys, mode="markers", showlegend=False,
        marker=dict(symbol=symbol, size=size, color=color, line_width=0),
    )


samples = UPPER_TAIL + UPPER_EDGE + LOWER_LEFT + LOWER_EDGE + RIGHT_EDGE + MIDDLE_BAND + LOWER_TAIL

fig = go.Figure()
fig.add_trace(scatter(CORE, 36, RED))
fig.add_trace(scatter(CLUMPS, 20, RED))
fig.add_trace(scatter(samples, 10, RED))
fig.add_trace(scatter([START_POINT], 29, "#000000", "circle"))
fig.add_trace(scatter([ESTIMATE], 30, "#00FF00", "circle"))

# the page keeps its default 8 px body margin, so the figure is 8 px smaller
fig.update_layout(
    width=2065, height=1691,
    margin=dict(l=210, r=29, t=46, b=240, autoexpand=False),
    paper_bgcolor="white", plot_bgcolor="white",
    font=dict(family=FONT, color=INK, size=66),
)
axis_style = dict(
    showline=True, linecolor=INK, linewidth=4, mirror="ticks",
    ticks="inside", ticklen=13, tickwidth=3, tickcolor=INK,
    showgrid=True, gridcolor="#DFDFDF", gridwidth=3, zeroline=False,
)
fig.update_xaxes(range=[-5.97, 13.96], tickvals=X_TICKS, ticktext=X_LABELS,
                 ticklabelstandoff=2, **axis_style)
fig.update_yaxes(range=[20, 35], tickvals=Y_TICKS, ticktext=Y_LABELS,
                 ticklabelstandoff=13, **axis_style)

fig.add_annotation(
    text="<b>a</b><sub><b>0</b></sub>", x=0.497, y=-0.155, xref="paper", yref="paper",
    showarrow=False, font=dict(family=LABEL_FONT, size=70, color="#222222"),
)
fig.add_annotation(
    text="<b>a</b><sub><b>1</b></sub>", x=-0.1205, y=0.49, xref="paper", yref="paper",
    showarrow=False, textangle=-90, font=dict(family=LABEL_FONT, size=70, color="#222222"),
)

fig.write_html("out.html")
